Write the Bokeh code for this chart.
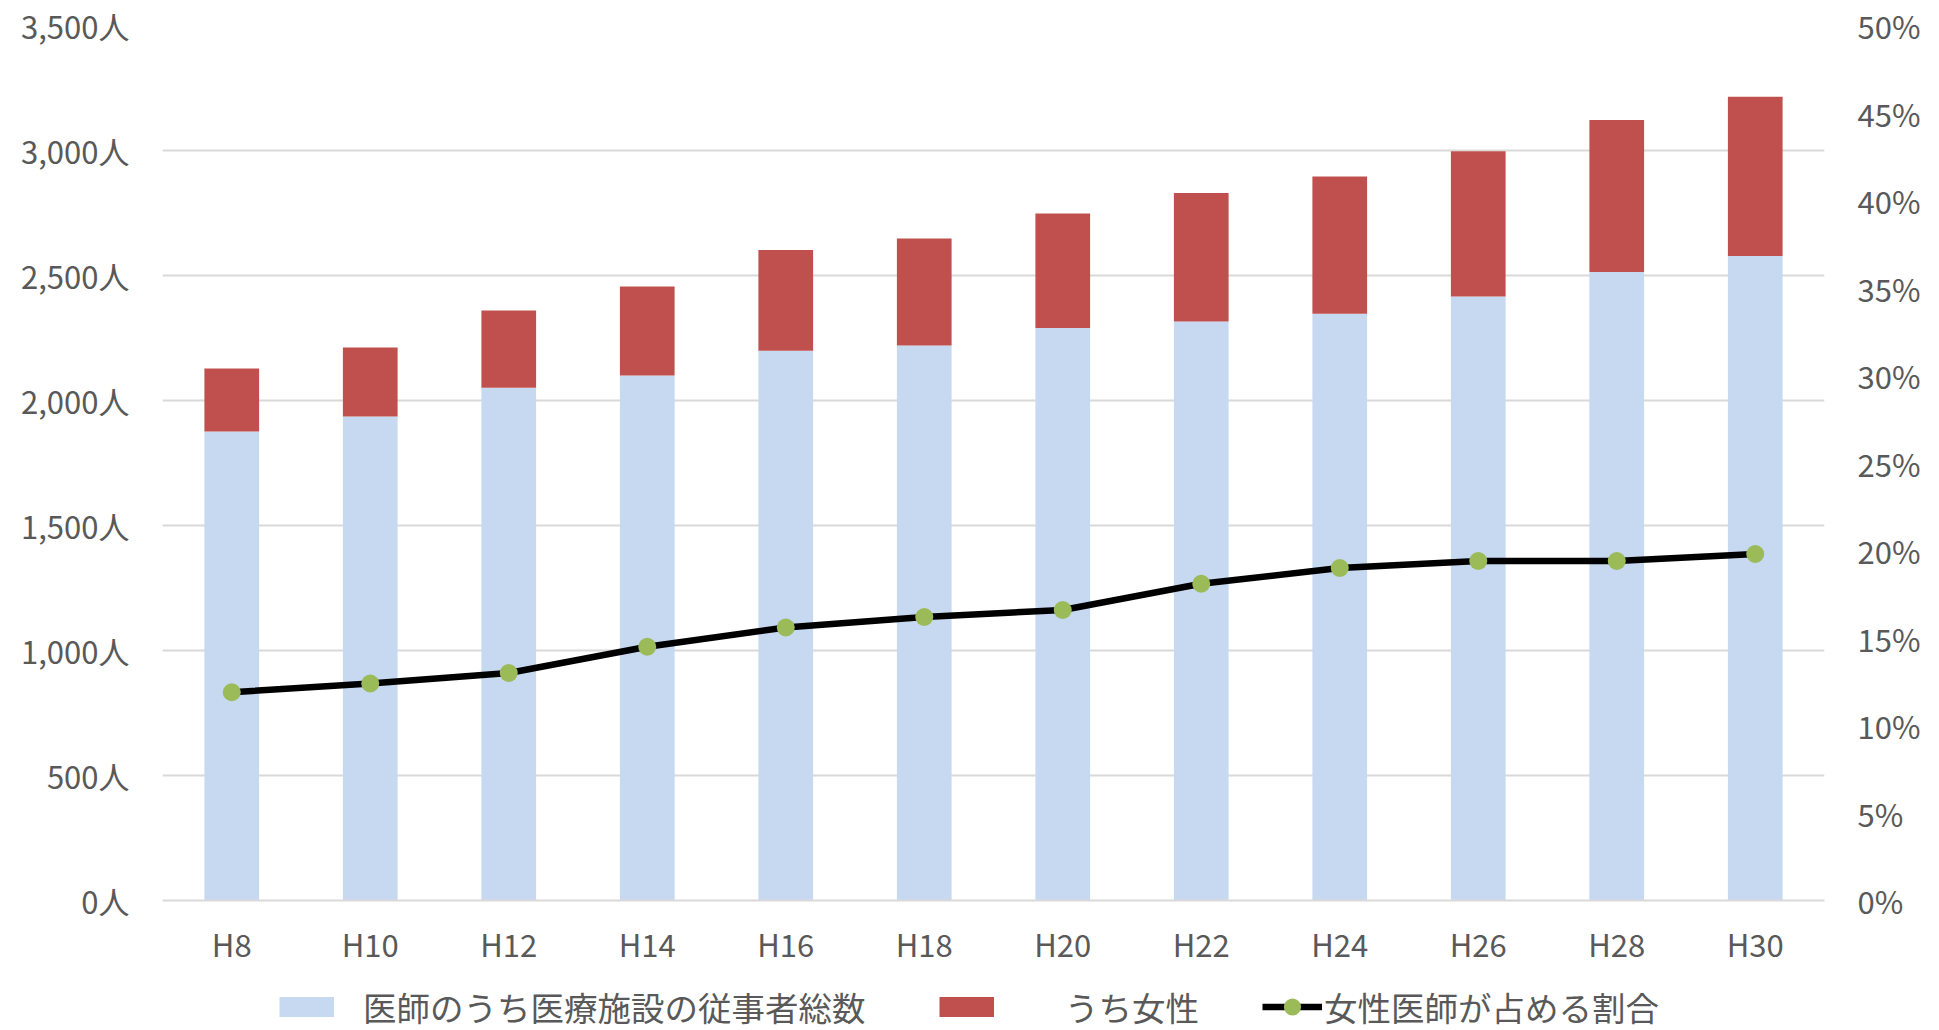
from bokeh.plotting import figure
from bokeh.layouts import column
from bokeh.models import (ColumnDataSource, FactorRange, Range1d, LinearAxis,
                          FixedTicker, Legend, LegendItem)
from bokeh.embed import file_html
from bokeh.resources import INLINE

# ---- data ----
years = ["H8", "H10", "H12", "H14", "H16", "H18", "H20", "H22", "H24", "H26", "H28", "H30"]
doctors_non_women = [1876, 1936, 2051, 2100, 2199, 2220, 2290, 2316, 2347, 2416, 2514, 2578]
doctors_women = [252, 276, 309, 356, 403, 428, 458, 514, 549, 581, 608, 637]
women_share_pct = [11.9, 12.4, 13.0, 14.5, 15.6, 16.2, 16.6, 18.1, 19.0, 19.4, 19.4, 19.8]

left_ticks = [0, 500, 1000, 1500, 2000, 2500, 3000, 3500]
left_tick_labels = ["0人", "500人", "1,000人", "1,500人", "2,000人", "2,500人", "3,000人", "3,500人"]
right_ticks = [0, 5, 10, 15, 20, 25, 30, 35, 40, 45, 50]
right_tick_labels = ["0%", "5%", "10%", "15%", "20%", "25%", "30%", "35%", "40%", "45%", "50%"]

series_names = ["医師のうち医療施設の従事者総数", "うち女性", "女性医師が占める割合"]

# ---- styles ----
FONT = "Noto Sans CJK JP"
FS = "31px"
LEG_FS = "33.5px"
TXT = "#595959"
BLUE = "#C6D9F0"
RED = "#C0504D"
GREEN = "#9BBB59"
GRID = "#D9D9D9"

stack_top = [a + b for a, b in zip(doctors_non_women, doctors_women)]
src = ColumnDataSource(dict(x=years, blue=doctors_non_women, top=stack_top,
                            pct=women_share_pct))

p = figure(x_range=FactorRange(*years), y_range=Range1d(0, 3500),
           width=1939, height=975, output_backend="svg", toolbar_location=None,
           min_border_left=162, min_border_right=115, min_border_top=25,
           min_border_bottom=75)
p.outline_line_color = None
p.extra_y_ranges = {"pct": Range1d(0, 50)}

p.vbar(x="x", bottom=0, top="blue", width=0.395, source=src,
       fill_color=BLUE, line_color=None)
p.vbar(x="x", bottom="blue", top="top", width=0.395, source=src,
       fill_color=RED, line_color=None)
p.line(x="x", y="pct", source=src, y_range_name="pct",
       line_color="black", line_width=6.5)
p.scatter(x="x", y="pct", source=src, y_range_name="pct",
          size=18, fill_color=GREEN, line_color=None)

# axes
right_axis = LinearAxis(y_range_name="pct")
p.add_layout(right_axis, "right")

p.yaxis[0].ticker = FixedTicker(ticks=left_ticks)
p.yaxis[0].major_label_overrides = dict(zip(left_ticks, left_tick_labels))
right_axis.ticker = FixedTicker(ticks=right_ticks)
right_axis.major_label_overrides = dict(zip(right_ticks, right_tick_labels))

for ax in [p.yaxis[0], right_axis, p.xaxis[0]]:
    ax.axis_line_color = None
    ax.major_tick_line_color = None
    ax.minor_tick_line_color = None
    ax.major_label_text_font = FONT
    ax.major_label_text_font_size = FS
    ax.major_label_text_color = TXT
    ax.major_label_standoff = 27
p.xaxis[0].axis_line_color = GRID
p.xaxis[0].axis_line_width = 2
p.xaxis[0].major_label_standoff = 14

p.xgrid.grid_line_color = None
p.ygrid.ticker = FixedTicker(ticks=left_ticks)
p.ygrid.grid_line_color = GRID
p.ygrid.grid_line_width = 2

# ---- legend strip below the chart (frame aligned with the chart's frame) ----
LEG_H = 55
lf = figure(width=1939, height=LEG_H, x_range=Range1d(0, 10), y_range=Range1d(0, 10),
            output_backend="svg", toolbar_location=None,
            x_axis_location=None, y_axis_location=None,
            min_border_left=0, min_border_right=0, min_border_top=0, min_border_bottom=0)
lf.outline_line_color = None
lf.grid.visible = False

# legend keys: styled proxies placed outside the visible range
off_x = [-50, -40]
off_y = [-50, -50]
key_blue = lf.line(x=off_x, y=off_y, line_color=BLUE, line_width=20, line_cap="butt")
key_red = lf.line(x=off_x, y=off_y, line_color=RED, line_width=20, line_cap="butt")
key_line = lf.line(x=off_x, y=off_y, line_color="black", line_width=6.5)
key_pts = lf.scatter(x=off_x, y=off_y, fill_color=GREEN, line_color=None, size=18)


def add_legend(items, x, y, gw, gh, standoff):
    lg = Legend(items=items, location=(x, y), orientation="horizontal",
                glyph_width=gw, glyph_height=gh, label_standoff=standoff,
                padding=0, margin=0, spacing=0, border_line_color=None,
                background_fill_alpha=0, label_text_font=FONT,
                label_text_font_size=LEG_FS, label_text_color=TXT)
    lf.add_layout(lg, "center")


LEG_Y = -1
add_legend([LegendItem(label=series_names[0], renderers=[key_blue])], 117, LEG_Y, 55, 43, 29)
add_legend([LegendItem(label=series_names[1], renderers=[key_red])], 777, LEG_Y, 55, 43, 71)
add_legend([LegendItem(label=series_names[2], renderers=[key_line, key_pts])], 1100, LEG_Y, 60, 43, 2)

open("out.html", "w").write(file_html(column(p, lf), INLINE))
